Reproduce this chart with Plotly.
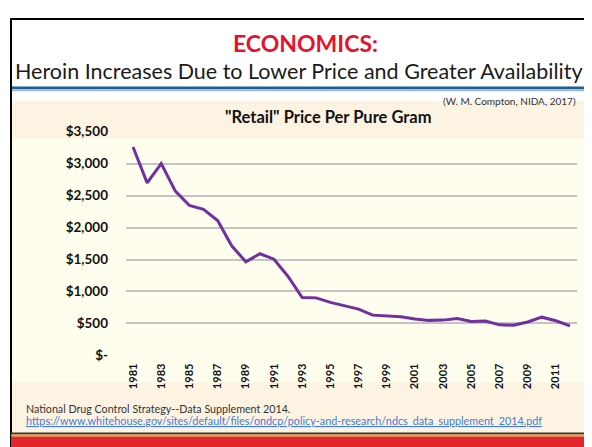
from plotly import graph_objects as go

W, H = 592, 447
OFF = 8  # the page body adds an 8px margin, so positions are shifted back by it

years = [str(y) for y in range(1981, 2013)]
price = [3260, 2700, 3000, 2570, 2345, 2285, 2110, 1715, 1465, 1590,
         1505, 1235, 905, 900, 830, 780, 725, 630, 620, 605,
         570, 548, 552, 578, 532, 537, 478, 472, 522, 598,
         542, 462]
tick_years = [str(y) for y in range(1981, 2012, 2)]
y_ticks = [0, 500, 1000, 1500, 2000, 2500, 3000, 3500]
y_labels = ['$-', '$500', '$1,000', '$1,500', '$2,000', '$2,500', '$3,000', '$3,500']

FONT = 'Lato'
PURPLE = '#7030a0'
BEIGE = '#fdf3e3'
CREAM = '#fefdee'


def px(x):
    return (x - OFF) / W


def py(y):
    return 1 - (y - OFF) / H


fig = go.Figure()
fig.add_trace(go.Scatter(x=years, y=price, mode='lines',
                         line=dict(color=PURPLE, width=3), hoverinfo='skip'))

shapes = []
# beige chart panel and cream plot band
shapes.append(dict(type='rect', xref='paper', yref='paper', x0=px(12), x1=px(600),
                   y0=py(440), y1=py(96), fillcolor=BEIGE, line=dict(width=0), layer='below'))
shapes.append(dict(type='rect', xref='paper', yref='paper', x0=px(12), x1=px(600),
                   y0=py(388), y1=py(135), fillcolor=CREAM, line=dict(width=0), layer='below'))
# header rule
shapes.append(dict(type='rect', xref='paper', yref='paper', x0=px(11), x1=px(600),
                   y0=py(84), y1=py(81), fillcolor='#1f5f8e', line=dict(width=0)))
shapes.append(dict(type='rect', xref='paper', yref='paper', x0=px(11), x1=px(600),
                   y0=py(86), y1=py(84), fillcolor='#9dbad2', line=dict(width=0)))
# slide frame
shapes.append(dict(type='line', xref='paper', yref='paper', x0=px(11), x1=px(11),
                   y0=py(455), y1=py(10), line=dict(color='black', width=2)))
shapes.append(dict(type='line', xref='paper', yref='paper', x0=px(10), x1=px(600),
                   y0=py(11), y1=py(11), line=dict(color='black', width=2)))
# bottom stripes
for y0, y1, c in [(440, 442, '#3b3320'), (442, 444, '#e8a224'), (444, 455, '#e3262b')]:
    shapes.append(dict(type='rect', xref='paper', yref='paper', x0=px(11), x1=px(600),
                       y0=py(y1), y1=py(y0), fillcolor=c, line=dict(width=0)))

annotations = [
    dict(text='<b>ECONOMICS:</b>', x=px(305), y=py(36.5), font=dict(size=23, color='#e8112d')),
    dict(text='Heroin Increases Due to Lower Price and Greater Availability', x=px(299), y=py(65.5),
         font=dict(size=21.5, color='#1a1a1a')),
    dict(text='(W. M. Compton, NIDA, 2017)', x=px(578), y=py(96), xanchor='right',
         font=dict(size=10, color='#333333')),
    dict(text='<b>"Retail" Price Per Pure Gram</b>', x=px(328), y=py(113),
         font=dict(size=16.5, color='#111111')),
    dict(text='National Drug Control Strategy--Data Supplement 2014.', x=px(24), y=py(415),
         xanchor='left', font=dict(size=10.7, color='#333333')),
    dict(text='<a href="https://www.whitehouse.gov/sites/default/files/ondcp/policy-and-research/ndcs_data_supplement_2014.pdf">'
              '<u>https://www.whitehouse.gov/sites/default/files/ondcp/policy-and-research/ndcs_data_supplement_2014.pdf</u></a>',
         x=px(24), y=py(427), xanchor='left', font=dict(size=10.8, color='#0000ee')),
]
for a in annotations:
    a.setdefault('xanchor', 'center')
    a.update(xref='paper', yref='paper', yanchor='middle', showarrow=False)
    a['font'].setdefault('family', FONT)

fig.update_layout(
    width=W, height=H,
    margin=dict(l=0, r=0, t=0, b=0),
    paper_bgcolor='white',
    plot_bgcolor='rgba(0,0,0,0)',
    showlegend=False,
    shapes=shapes,
    annotations=annotations,
    font=dict(family=FONT),
    xaxis=dict(domain=[px(126), px(577)], type='category', range=[-0.5, 31.5],
               tickmode='array', tickvals=tick_years, ticktext=[f'<b>{t}</b>' for t in tick_years],
               tickangle=-90, tickfont=dict(size=11, color='#111111'),
               showgrid=False, zeroline=False, showline=False, ticks='', ticklabelstandoff=5),
    yaxis=dict(domain=[py(360), py(128)], range=[0, 3500],
               tickmode='array', tickvals=y_ticks, ticktext=[f'<b>{t}</b>' for t in y_labels],
               tickfont=dict(size=13.5, color='#111111'),
               showgrid=True, gridcolor='#c4c4c4', gridwidth=1.5, zeroline=False,
               showline=False, ticks='', ticklabelstandoff=17),
)

fig.write_html("out.html")
